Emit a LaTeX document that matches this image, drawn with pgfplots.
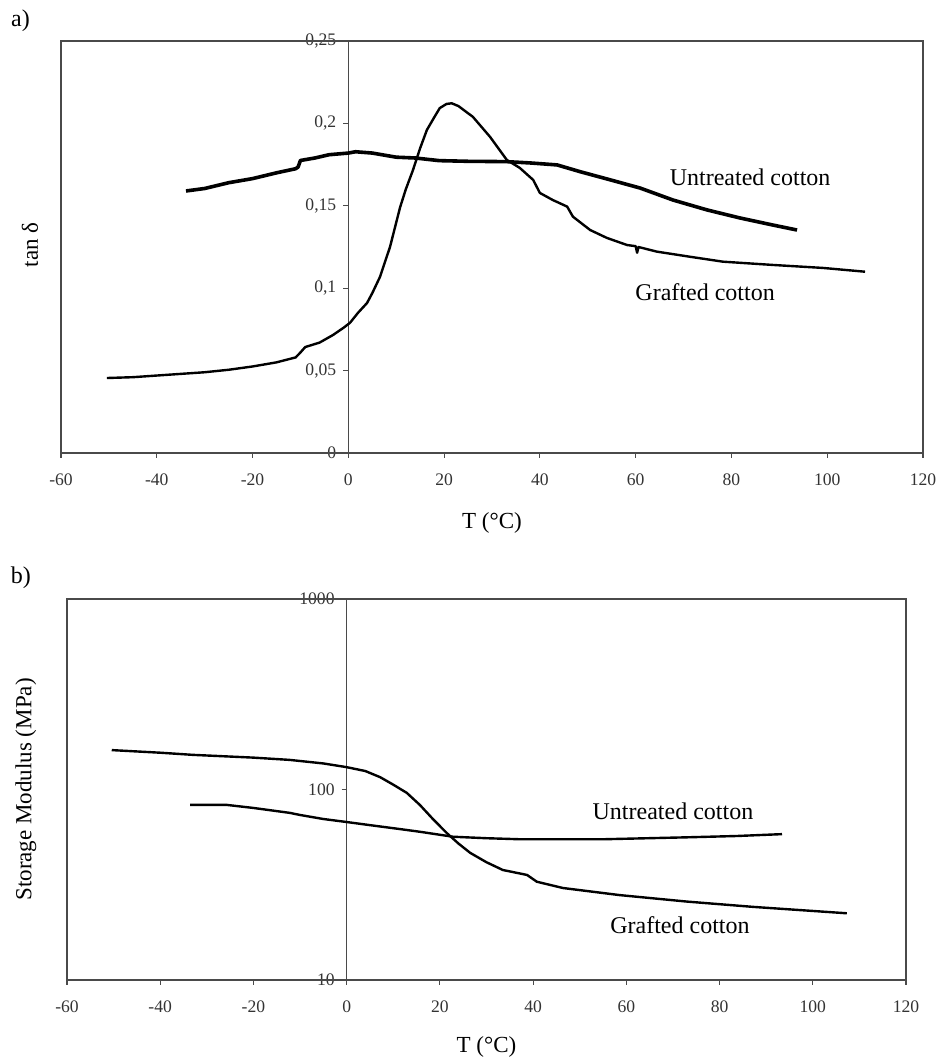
\documentclass[border=0pt]{standalone}
\usepackage{fontspec}
\setmainfont{Liberation Serif}
\usepackage{pgfplots}
\pgfplotsset{compat=1.18}
\definecolor{axcol}{HTML}{4A4A4A}
\definecolor{tkcol}{HTML}{333333}
\tikzset{nodefont/.style={font=\fontsize{12}{14}\selectfont}}
\pgfplotsset{
  myax/.style={
    scale only axis, anchor=south west,
    axis x line=bottom, axis y line=middle,
    axis line style={-, draw=axcol, line width=0.75pt},
    y axis line style={line width=0.5pt},
    xmin=-60, xmax=120, xtick={-60,-40,-20,0,20,40,60,80,100,120},
    xticklabels={-60,-40,-20,0,20,40,60,80,100,120},
    hide obscured x ticks=false, hide obscured y ticks=false,
    tick style={draw=axcol, line width=0.6pt},
    major tick length=2.5pt,
    xtick align=outside, ytick align=outside,
    tick label style={font=\fontsize{8.8}{10}\selectfont, text=tkcol},
    xticklabel style={yshift=-4.5pt},
    every axis x label/.style={at={(axis description cs:0.5,-0.17)}, anchor=center, font=\fontsize{11.5}{13}\selectfont},
    clip=false,
  },
}
\begin{document}
\begin{tikzpicture}
\path[use as bounding box] (0,0) rectangle (469.5pt,528.5pt);
% ---------- panel a ----------
\begin{axis}[myax, at={(30.5pt,302pt)}, width=431pt, height=206pt,
  ymin=0, ymax=0.25, ytick={0,0.05,0.1,0.15,0.2,0.25},
  yticklabels={0,{0,05},{0,1},{0,15},{0,2},{0,25}},
  every axis y label/.style={at={(axis description cs:-0.036,0.505)}, anchor=center, rotate=90, font=\fontsize{11.5}{13}\selectfont},
  xlabel={T (°C)}, ylabel={tan δ}]
\draw[axcol, line width=0.75pt] (rel axis cs:0,0) rectangle (rel axis cs:1,1);
% Untreated cotton
\addplot[black, line width=1.8pt, line join=round] coordinates {
(-33.9,0.159) (-30,0.1605) (-25,0.164) (-20,0.1665) (-15,0.170) (-11,0.1725)
(-10.5,0.1735) (-10,0.1775) (-7,0.179) (-4,0.181) (0,0.182) (1.5,0.1828)
(5,0.182) (10,0.1795) (14,0.179) (19,0.1774) (25,0.177) (33,0.1768)
(38,0.176) (43.6,0.1748) (48.4,0.1707) (54,0.1663) (60.9,0.1608)
(67.8,0.1535) (74.9,0.1475) (81.8,0.1426) (88.7,0.1383) (93.7,0.1353)};
% Grafted cotton
\addplot[black, line width=1.2pt, line join=round] coordinates {
(-50.4,0.0455) (-45,0.046) (-40,0.047) (-35,0.048) (-30,0.049) (-25,0.0505)
(-20,0.0525) (-15,0.055) (-11,0.058) (-10,0.061) (-9,0.0643) (-6,0.067)
(-3.2,0.0716) (-1,0.076) (0.35,0.079) (2,0.085) (3.9,0.091) (5,0.097)
(6.6,0.1068) (8.7,0.125) (10.8,0.149) (12,0.160) (13.5,0.1717) (15,0.185)
(16.4,0.196) (18,0.204) (19.1,0.2093) (20.5,0.2118) (21.6,0.2122) (23,0.2105)
(26,0.204) (29.6,0.1918) (33.1,0.1778) (35.8,0.173) (38.6,0.1657) (40,0.1578)
(42.7,0.1535) (45.7,0.1495) (46.9,0.1434) (50.5,0.1353) (54,0.1305)
(58.2,0.1262) (60,0.1255) (60.3,0.1215) (60.6,0.1250) (64.4,0.1222)
(71.3,0.1191) (78.2,0.1161) (88.7,0.1141) (99.1,0.1123) (107.9,0.110)};
\node[nodefont] at (axis cs:83.9,0.1675) {Untreated cotton};
\node[nodefont] at (axis cs:74.5,0.0977) {Grafted cotton};
\node[nodefont, anchor=center] at (axis description cs:-0.047,1.05) {a)};
\end{axis}
% ---------- panel b ----------
\begin{axis}[myax, at={(33.5pt,38.5pt)}, width=419.5pt, height=190.5pt,
  ymode=log, ymin=10, ymax=1000, ytick={10,100,1000}, yticklabels={10,100,1000},
  yminorticks=false,
  every axis y label/.style={at={(axis description cs:-0.049,0.5)}, anchor=center, rotate=90, font=\fontsize{11.5}{13}\selectfont},
  every axis x label/.style={at={(axis description cs:0.5,-0.176)}, anchor=center, font=\fontsize{11.5}{13}\selectfont},
  xlabel={T (°C)}, ylabel={Storage Modulus (MPa)}]
\draw[axcol, line width=0.75pt] (rel axis cs:0,0) rectangle (rel axis cs:1,1);
% Untreated cotton
\addplot[black, line width=1.2pt, line join=round] coordinates {
(-33.6,83) (-25.7,83) (-20,80) (-12.2,75.4) (-10,73.5) (-5,70) (0,67.5)
(5,65) (11.4,62) (15.7,60) (22.8,56.5) (30,55.5) (37.2,54.8) (55,54.8)
(73,56.1) (83.7,57) (93.4,58.3)};
% Grafted cotton
\addplot[black, line width=1.2pt, line join=round] coordinates {
(-50.4,161) (-40,156) (-33,152) (-20,147) (-12.2,143) (-5,137) (0,131)
(4,125) (7.2,116) (10,106) (12.9,96) (15.7,83) (18.5,70) (21.5,59)
(24,52) (26.5,46.5) (30,41.5) (33.5,37.8) (38.7,35.6) (40.8,32.8)
(46.4,30.4) (58.6,27.9) (73,25.8) (87.2,24.2) (107.3,22.4)};
\node[nodefont] at (axis cs:70,76.4) {Untreated cotton};
\node[nodefont] at (axis cs:71.5,19.5) {Grafted cotton};
\node[nodefont, anchor=center] at (axis description cs:-0.055,1.055) {b)};
\end{axis}
\end{tikzpicture}
\end{document}
